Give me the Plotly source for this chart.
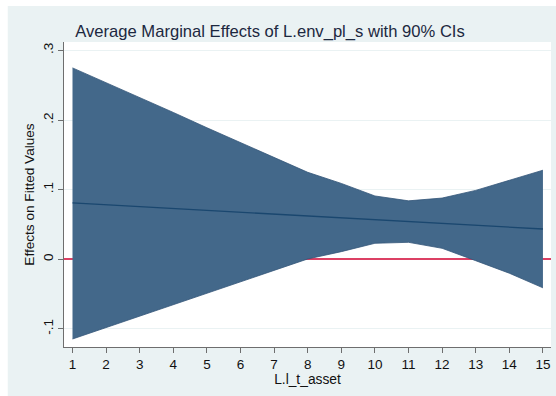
import plotly.graph_objects as go

# Average marginal effects of L.env_pl_s over L.l_t_asset, with 90% confidence limits
l_t_asset = [1, 2, 3, 4, 5, 6, 7, 8, 9, 10, 11, 12, 13, 14, 15]
ame = [0.0810, 0.0783, 0.0756, 0.0730, 0.0703, 0.0676, 0.0649, 0.0622,
       0.0596, 0.0569, 0.0542, 0.0515, 0.0488, 0.0462, 0.0435]
ci_upper = [0.275, 0.254, 0.232, 0.211, 0.189, 0.168, 0.146, 0.125,
            0.109, 0.091, 0.084, 0.088, 0.099, 0.113, 0.128]
ci_lower = [-0.1145, -0.098, -0.081, -0.065, -0.048, -0.032, -0.016, 0.0005,
            0.011, 0.023, 0.0244, 0.0158, -0.002, -0.020, -0.041]

x_ticks = list(range(1, 16))
y_ticks = [-0.1, 0, 0.1, 0.2, 0.3]
y_tick_text = ["-.1", "0", ".1", ".2", ".3"]

BAND = "rgb(67,104,138)"
BAND_EDGE = "rgb(52,86,120)"
LINE = "#1a476f"
BG = "#eaf2f3"
AXIS = "#6e6e6e"
FONT = "Liberation Sans, Arial, sans-serif"

fig = go.Figure()

# confidence band: upper edge, then lower edge filled back to it
fig.add_trace(go.Scatter(
    x=l_t_asset, y=ci_upper, mode="lines",
    line=dict(color=BAND_EDGE, width=0.8), hoverinfo="skip", showlegend=False))
fig.add_trace(go.Scatter(
    x=l_t_asset, y=ci_lower, mode="lines", fill="tonexty", fillcolor=BAND,
    line=dict(color=BAND_EDGE, width=0.8), hoverinfo="skip", showlegend=False))

# point estimates
fig.add_trace(go.Scatter(
    x=l_t_asset, y=ame, mode="lines",
    line=dict(color=LINE, width=1.3), showlegend=False))

shapes = [
    # white strips along the left and top edges of the page
    dict(type="rect", xref="paper", yref="paper", x0=-0.14, x1=-0.1155,
         y0=-0.2, y1=1.2, fillcolor="white", line=dict(width=0), layer="below"),
    dict(type="rect", xref="paper", yref="paper", x0=-0.14, x1=1.02,
         y0=1.118, y1=1.2, fillcolor="white", line=dict(width=0), layer="below"),
]

fig.update_layout(
    width=556, height=396,
    margin=dict(l=64, r=5, t=42, b=49),
    paper_bgcolor=BG, plot_bgcolor="white",
    font=dict(family=FONT, color="#111111", size=13),
    title=dict(text="Average Marginal Effects of L.env_pl_s with 90% CIs",
               x=0.423, xanchor="center", xref="paper",
               y=0.921, yanchor="middle", yref="container",
               font=dict(family=FONT, size=16.6, color="#1c2840")),
    shapes=shapes,
    xaxis=dict(
        range=[0.747, 15.24], tickmode="array", tickvals=x_ticks,
        ticks="outside", ticklen=5, tickcolor=AXIS, tickwidth=1,
        showline=True, linecolor=AXIS, linewidth=1, showgrid=False,
        zeroline=False, tickfont=dict(size=13.5, color="#111111"),
        title=dict(text="L.l_t_asset", font=dict(size=13.8, color="#111111"),
                   standoff=0),
    ),
    yaxis=dict(
        range=[-0.126, 0.3122], tickmode="array", tickvals=y_ticks,
        ticktext=y_tick_text, tickangle=-90,
        ticks="outside", ticklen=5, tickcolor=AXIS, tickwidth=1,
        showline=True, linecolor=AXIS, linewidth=1,
        showgrid=True, gridcolor=BG, gridwidth=1,
        # zero reference line, drawn under the band
        zeroline=True, zerolinecolor="#dc4064", zerolinewidth=1.5,
        tickfont=dict(size=13.5, color="#111111"),
        title=dict(text="Effects on Fitted Values",
                   font=dict(size=13.6, color="#111111"), standoff=2),
    ),
)

fig.write_html("out.html")
